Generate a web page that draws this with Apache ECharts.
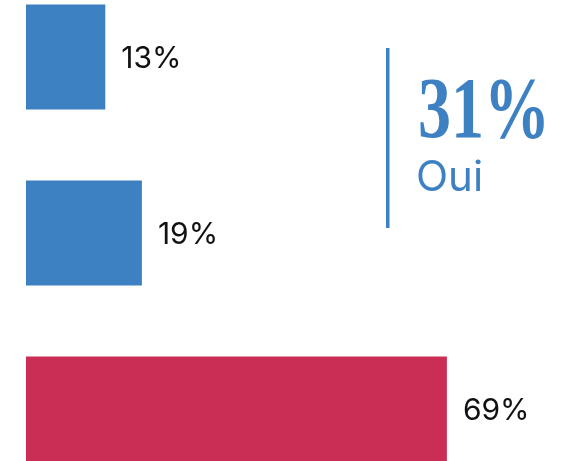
<!DOCTYPE html>
<html>
<head>
<meta charset="utf-8">
<script src="https://cdn.jsdelivr.net/npm/echarts@6/dist/echarts.min.js"></script>
<style>
  html, body { margin: 0; padding: 0; background: #fff; }
  #main { width: 565px; height: 461px; }
</style>
</head>
<body>
<div id="main"></div>
<script>
// bar data, top to bottom
var categories = ['A', 'B', 'C'];
var values = [13, 19, 69];
var barColors = ['#3e81c2', '#3e81c2', '#ca2e55'];
// highlighted figure on the right
var bigValue = '31%';
var bigLabel = 'Oui';

var chart = echarts.init(document.getElementById('main'), null, { renderer: 'canvas' });

var option = {
  backgroundColor: '#ffffff',
  animation: false,
  grid: {
    left: 26,
    right: 51,
    top: -31,
    height: 528,
    outerBoundsMode: 'none',
    containLabel: false
  },
  xAxis: {
    type: 'value',
    min: 0,
    max: 80,
    show: false
  },
  yAxis: {
    type: 'category',
    inverse: true,
    data: categories,
    show: false
  },
  series: [{
    type: 'bar',
    barWidth: 105,
    data: values.map(function (v, i) {
      return { value: v, itemStyle: { color: barColors[i] } };
    }),
    label: {
      show: true,
      position: 'right',
      distance: 16,
      offset: [0, 2],
      formatter: '{c}%',
      color: '#111111',
      fontFamily: 'Inter, "Noto Sans", sans-serif',
      fontSize: 30
    }
  }],
  graphic: [
    {
      type: 'rect',
      shape: { x: 386, y: 48, width: 3.5, height: 180 },
      style: { fill: '#3e81c2' }
    },
    {
      type: 'text',
      x: 418,
      y: 158,
      scaleY: 1.3,
      originY: 0,
      style: {
        text: bigValue,
        fill: '#3e81c2',
        font: 'bold 66px "Liberation Serif", serif',
        textVerticalAlign: 'bottom'
      }
    },
    {
      type: 'text',
      x: 416,
      y: 199,
      style: {
        text: bigLabel,
        fill: '#3e81c2',
        font: '42px Inter, "Noto Sans", sans-serif',
        textVerticalAlign: 'bottom'
      }
    }
  ]
};

chart.setOption(option);
</script>
</body>
</html>
